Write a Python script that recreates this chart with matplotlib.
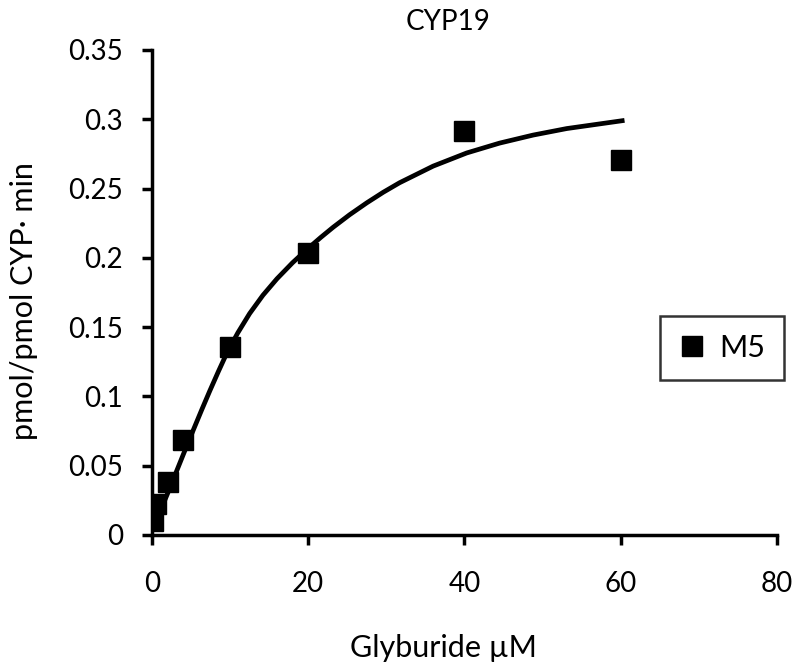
import matplotlib
matplotlib.use("Agg")
import matplotlib.pyplot as plt

plt.rcParams['font.family'] = ['Lato', 'DejaVu Sans']

# measured points
conc = [0.1, 0.5, 2, 4, 10, 20, 40, 60]
rate = [0.010, 0.0226, 0.038, 0.0685, 0.1356, 0.2035, 0.2915, 0.2705]

# fitted curve
fit_x = [0.1, 1.0, 2.0, 3.0, 4.0, 5.3, 6.4, 7.4, 8.5, 9.6, 11.0, 12.5, 14.2, 16.0,
         18.0, 20.0, 21.6, 23.2, 25.3, 27.5, 29.6, 31.7, 36.0, 40.3, 44.5, 48.8,
         53.1, 60.5]
fit_y = [0.005, 0.0165, 0.030, 0.044, 0.058, 0.0759, 0.0908, 0.104, 0.118, 0.1315,
         0.146, 0.1598, 0.173, 0.1849, 0.1965, 0.2069, 0.2147, 0.2221, 0.2311, 0.2397,
         0.2473, 0.2542, 0.2662, 0.2757, 0.2828, 0.2886, 0.2933, 0.2992]

xticks = [0, 20, 40, 60, 80]
yticks = [0, 0.05, 0.1, 0.15, 0.2, 0.25, 0.3, 0.35]
ytick_labels = ['0', '0.05', '0.1', '0.15', '0.2', '0.25', '0.3', '0.35']

fig = plt.figure(figsize=(8, 6.72), dpi=100)
ax = fig.add_axes([0.19, 0.2039, 0.781, 0.7217])

ax.plot(fit_x, fit_y, color='black', lw=3.4, zorder=2, solid_capstyle='butt',
        solid_joinstyle='round')
ax.plot(conc, rate, linestyle='none', marker='s', markersize=14.5, color='black',
        label='M5', zorder=3)

ax.set_xlim(0, 80)
ax.set_ylim(0, 0.35)
ax.set_xticks(xticks)
ax.set_xticklabels([str(t) for t in xticks])
ax.set_yticks(yticks)
ax.set_yticklabels(ytick_labels)

for s in ['top', 'right']:
    ax.spines[s].set_visible(False)
for s in ['left', 'bottom']:
    ax.spines[s].set_linewidth(2.5)
ax.tick_params(axis='both', direction='out', length=7, width=2.5, labelsize=20)
ax.tick_params(axis='x', pad=19)
ax.tick_params(axis='y', pad=14)

# title
ax.text(0.474, 1.041, 'CYP19', transform=ax.transAxes, ha='center', va='baseline',
        fontsize=20)

ax.set_xlabel('Glyburide µM', fontsize=22)
ax.xaxis.label.set_va('baseline')
ax.xaxis.set_label_coords(0.466, -0.251)

ax.set_ylabel('pmol/pmol CYP· min', fontsize=22)
ax.yaxis.label.set_va('center')
ax.yaxis.set_label_coords(-0.205, 0.4825)

leg = ax.legend(loc='center', bbox_to_anchor=(0.912, 0.3856), frameon=True, fancybox=False,
                fontsize=22, markerscale=0.95, handlelength=0.88, handletextpad=0.46,
                borderpad=0.6, borderaxespad=0)
leg.get_frame().set_edgecolor('black')
leg.get_frame().set_linewidth(1.8)

fig.savefig('out.png', dpi=100)
